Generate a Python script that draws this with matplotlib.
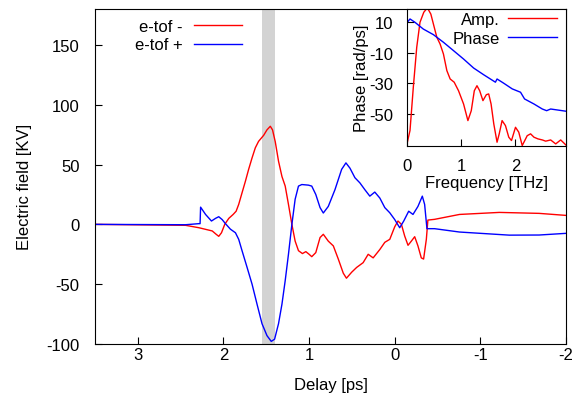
import matplotlib
matplotlib.use("Agg")
import matplotlib.pyplot as plt

plt.rcParams['font.family'] = ['Liberation Sans', 'DejaVu Sans']
plt.rcParams['font.size'] = 12
plt.rcParams['axes.unicode_minus'] = False

# main plot: delay [ps] vs electric field [KV]
delay_neg = [3.5, 2.442, 2.287, 2.131, 2.085, 2.055, 2.023, 1.985, 1.938, 1.887,
             1.852, 1.822, 1.783, 1.744, 1.706, 1.666, 1.628, 1.590, 1.531, 1.492,
             1.453, 1.427, 1.395, 1.357, 1.317, 1.279, 1.241, 1.201, 1.163, 1.124,
             1.078, 1.038, 1.0, 0.969, 0.922, 0.872, 0.834, 0.776, 0.717, 0.659,
             0.601, 0.564, 0.503, 0.445, 0.369, 0.310, 0.252, 0.174, 0.116, 0.058,
             0.0, -0.038, -0.078, -0.116, -0.155, -0.194, -0.233, -0.271, -0.31, -0.337,
             -0.369, -0.387, -0.465, -0.756, -1.221, -1.686, -2.0]
field_neg = [0, -0.8, -2.8, -5.5, -8.3, -10, -7, 0, 5, 8.3,
             11, 16.7, 26.4, 36, 46, 55.6, 64, 69.4, 74.4, 79,
             82, 79, 69, 52.8, 40, 32, 16.7, 0, -14, -22,
             -24.4, -22.8, -25, -27, -23.6, -11, -8.3, -14, -18, -29,
             -40.8, -45, -40, -36, -32, -25, -28, -21, -15, -12.5,
             -2, 2.8, 0, -9.7, -17.5, -14, -10.3, -18, -28, -29,
             -12.5, 3.6, 4.2, 8.3, 10, 9.2, 7.5]

delay_pos = [3.5, 2.442, 2.287, 2.273, 2.267, 2.209, 2.140, 2.093, 2.055, 2.015,
             1.977, 1.919, 1.860, 1.822, 1.783, 1.724, 1.666, 1.608, 1.550, 1.492,
             1.442, 1.403, 1.357, 1.317, 1.279, 1.241, 1.201, 1.163, 1.124, 1.085,
             1.008, 0.969, 0.922, 0.872, 0.834, 0.776, 0.698, 0.620, 0.570, 0.523,
             0.465, 0.407, 0.349, 0.291, 0.233, 0.174, 0.116, 0.058, 0.0, -0.058,
             -0.105, -0.163, -0.213, -0.271, -0.322, -0.349, -0.376, -0.465, -0.756, -1.337,
             -1.686, -2.0]
field_pos = [0, -0.3, 0.6, 0.6, 14.4, 8.3, 2.8, 5, 6.4, 4,
             0.6, -4, -7, -12.5, -22, -36, -50, -66.7, -83, -93,
             -97.8, -96, -83, -66.7, -47, -25, 0, 21, 32, 33.3,
             32.8, 32, 25, 14, 9.5, 15, 29, 46, 51.4, 47,
             39, 34.7, 29, 23.6, 27, 22, 14, 9.7, 4, -2.8,
             2.8, 11, 8.3, 15, 23.6, 16.7, -3.6, -3.6, -6.4, -9,
             -8.9, -7.5]

# inset: spectrum amplitude and phase
freq_amp = [0.0, 0.056, 0.117, 0.18, 0.24, 0.31, 0.376, 0.44, 0.487, 0.55,
            0.61, 0.672, 0.735, 0.796, 0.87, 0.95, 1.043, 1.123, 1.185, 1.241,
            1.29, 1.34, 1.40, 1.463, 1.506, 1.55, 1.6, 1.66, 1.70, 1.753,
            1.815, 1.876, 1.926, 2.0, 2.06, 2.124, 2.216, 2.278, 2.34, 2.413,
            2.494, 2.556, 2.648, 2.741, 2.833, 2.94]
amp = [-69.8, -61, -32.6, -6.4, 10, 16.6, 19.5, 15.4, 8.9, 0.2,
       -4.2, -10.8, -21.7, -27.2, -29.3, -34.9, -43.6, -54.5, -48, -34.9,
       -31.6, -34.9, -41.4, -37.5, -37, -43.6, -56.7, -68.7, -63.2, -54.5,
       -57.8, -65.4, -67.6, -58.9, -62.1, -70.9, -64.4, -63.2, -65.4, -66.5,
       -67.2, -68, -67.2, -69.8, -67.2, -70.9]

freq_phase = [0.006, 0.056, 0.148, 0.30, 0.487, 0.672, 0.858, 1.043, 1.228, 1.413,
              1.63, 1.66, 1.784, 1.94, 2.093, 2.167, 2.34, 2.494, 2.574, 2.648,
              2.94]
phase = [10, 12.2, 10, 5.6, 1.9, -3.1, -8.6, -14.1, -20, -24.4,
         -29.3, -27.2, -30, -33.7, -35.9, -40.3, -43.6, -46.9, -48, -46.9,
         -48.4]

band = [1.40, 1.55]

fig = plt.figure(figsize=(5.74, 4.02), dpi=100)
ax = fig.add_axes([0.1655, 0.1418, 0.8206, 0.8332])

ax.axvspan(band[0], band[1], color='#d3d3d3', lw=0, zorder=0)
ax.plot(delay_neg, field_neg, color='red', lw=1.0, label='e-tof -')
ax.plot(delay_pos, field_pos, color='blue', lw=1.0, label='e-tof +')

ax.set_xlim(3.5, -2)
ax.set_ylim(-100, 180)
ax.set_xticks([3, 2, 1, 0, -1, -2])
ax.set_yticks([-100, -50, 0, 50, 100, 150])
ax.tick_params(axis='x', direction='in', length=5, top=False, pad=2)
ax.tick_params(axis='y', direction='in', length=5, right=False, pad=11)
ax.set_xlabel('Delay [ps]', labelpad=11)
ax.set_ylabel('Electric field [KV]')
ax.yaxis.set_label_coords(-0.133, 0.472)
ax.legend(loc='upper right', bbox_to_anchor=(0.312, 0.970), frameon=False,
          markerfirst=False, handlelength=2.9, handletextpad=0.66,
          labelspacing=0.2, borderaxespad=0, borderpad=0)

ins = fig.add_axes([0.709, 0.635, 0.277, 0.340])
ins.plot(freq_amp, amp, color='red', lw=1.0, label='Amp.')
ins.plot(freq_phase, phase, color='blue', lw=1.0, label='Phase')
ins.set_xlim(0, 2.93)
ins.set_ylim(-71, 18.7)
ins.set_xticks([0, 1, 2])
ins.set_yticks([-50, -30, -10, 10])
ins.tick_params(axis='x', direction='in', length=5, top=False, pad=9)
ins.tick_params(axis='y', direction='in', length=5, right=False, pad=10)
ins.set_xlabel('Frequency [THz]', labelpad=1)
ins.set_ylabel('Phase [rad/ps]', labelpad=0)
ins.legend(loc='upper right', bbox_to_anchor=(0.9415, 0.978), frameon=False,
           markerfirst=False, handlelength=2.9, handletextpad=0.5,
           labelspacing=0.25, borderaxespad=0, borderpad=0)

fig.savefig('out.png', dpi=100)
